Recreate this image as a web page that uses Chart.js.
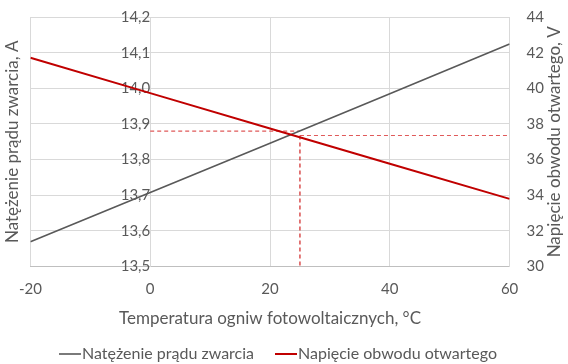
<!DOCTYPE html>
<html>
<head>
<meta charset="utf-8">
<script src="https://cdn.jsdelivr.net/npm/chart.js@4/dist/chart.umd.min.js"></script>
<style>
html,body{margin:0;padding:0;background:#fff;}
canvas{display:block;}
</style>
</head>
<body>
<canvas id="c" width="568" height="364"></canvas>
<script>
// Data
const temperatures = [-20, 0, 20, 40, 60];
const iscValues = [13.57, 13.708, 13.846, 13.985, 14.124];   // A, left axis
const vocValues = [41.71, 39.73, 37.75, 35.77, 33.80];       // V, right axis
const refTemp = 25;
const iscRef = 13.88;
const vocRef = 37.35;
const xTicks = [-20, 0, 20, 40, 60];
const seriesNames = ['Natężenie prądu zwarcia', 'Napięcie obwodu otwartego'];
const xTitle = 'Temperatura ogniw fotowoltaicznych, °C';
const yLeftTitle = 'Natężenie prądu zwarcia, A';
const yRightTitle = 'Napięcie obwodu otwartego, V';

const txt = '#595959';
const gridC = '#d9d9d9';
const FONT = 'Lato';

const toXY = (xs, ys) => xs.map((x, i) => ({x: x, y: ys[i]}));

const dashH = {borderColor: '#e05a5a', borderWidth: 1.1, borderDash: [4, 3], pointRadius: 0, fill: false};
const dashV = {borderColor: 'rgba(200,0,0,0.95)', borderWidth: 1.1, borderDash: [4, 3], pointRadius: 0, fill: false};

// short legend line sample (image point style)
function legendLine(color, width) {
  const c = document.createElement('canvas');
  c.width = 22; c.height = 4;
  const g = c.getContext('2d');
  g.strokeStyle = color; g.lineWidth = width;
  g.beginPath(); g.moveTo(0, 2); g.lineTo(22, 2); g.stroke();
  return c;
}

// draws the right axis title reading bottom-to-top, like the left one
const rightTitlePlugin = {
  id: 'rightTitle',
  afterDraw(chart) {
    const ctx = chart.ctx;
    const a = chart.chartArea;
    ctx.save();
    ctx.translate(555, (a.top + a.bottom) / 2);
    ctx.rotate(-Math.PI / 2);
    ctx.fillStyle = txt;
    ctx.font = '17px ' + FONT;
    ctx.textAlign = 'center';
    ctx.textBaseline = 'middle';
    ctx.fillText(yRightTitle, 0, 0);
    ctx.restore();
  }
};

const noVPad = (s) => { s.paddingTop = 0; s.paddingBottom = 0; };

new Chart(document.getElementById('c'), {
  type: 'line',
  data: {
    datasets: [
      {label: seriesNames[0], data: toXY(temperatures, iscValues), yAxisID: 'y', borderColor: '#595959', backgroundColor: '#595959', borderWidth: 1.6, pointRadius: 0, pointStyle: legendLine('#595959', 1.6), order: 1},
      {label: seriesNames[1], data: toXY(temperatures, vocValues), yAxisID: 'y1', borderColor: '#c00000', backgroundColor: '#c00000', borderWidth: 2, pointRadius: 0, pointStyle: legendLine('#c00000', 2), order: 0},
      Object.assign({label: 'h1', data: [{x: 0, y: iscRef}, {x: refTemp, y: iscRef}], yAxisID: 'y', order: 2}, dashH),
      Object.assign({label: 'h2', data: [{x: refTemp, y: vocRef}, {x: 60, y: vocRef}], yAxisID: 'y1', order: 2}, dashH),
      Object.assign({label: 'v1', data: [{x: refTemp, y: vocRef}, {x: refTemp, y: 30}], yAxisID: 'y1', order: 2}, dashV)
    ]
  },
  plugins: [rightTitlePlugin],
  options: {
    responsive: false,
    animation: false,
    layout: {padding: {left: 2, right: 7, top: 17, bottom: -8}},
    plugins: {
      legend: {
        position: 'bottom',
        labels: {
          filter: (item) => item.datasetIndex < 2,
          sort: (a, b) => a.datasetIndex - b.datasetIndex,
          usePointStyle: true,
          pointStyleWidth: 8,
          boxHeight: 2,
          color: txt,
          font: {family: FONT, size: 16},
          padding: 28
        }
      },
      tooltip: {enabled: false}
    },
    scales: {
      x: {
        type: 'linear', min: -20, max: 60,
        afterBuildTicks: (s) => { s.ticks = xTicks.map(v => ({value: v})); },
        ticks: {color: txt, font: {family: FONT, size: 15}, padding: 14},
        grid: {color: gridC, drawTicks: false},
        border: {color: '#bfbfbf'},
        title: {display: true, text: xTitle, color: txt, font: {family: FONT, size: 17}, padding: {top: -4, bottom: -11}}
      },
      y: {
        type: 'linear', position: {x: 0}, min: 13.5, max: 14.2,
        afterFit: noVPad,
        ticks: {stepSize: 0.1, color: txt, font: {family: FONT, size: 15}, padding: 15,
          callback: (v) => v.toFixed(1).replace('.', ',')},
        grid: {color: gridC, drawTicks: false},
        border: {color: gridC}
      },
      yt: {
        type: 'linear', position: 'left', min: 13.5, max: 14.2,
        afterFit: noVPad,
        ticks: {display: false},
        grid: {display: false, drawTicks: false},
        border: {display: false},
        title: {display: true, text: yLeftTitle, color: txt, font: {family: FONT, size: 17}, padding: {top: 0, bottom: 8}}
      },
      y1: {
        type: 'linear', position: 'right', min: 30, max: 44,
        afterFit: noVPad,
        ticks: {stepSize: 2, color: txt, font: {family: FONT, size: 15}, padding: 17},
        grid: {display: false, drawTicks: false},
        border: {color: gridC}
      }
    }
  }
});
</script>
</body>
</html>
